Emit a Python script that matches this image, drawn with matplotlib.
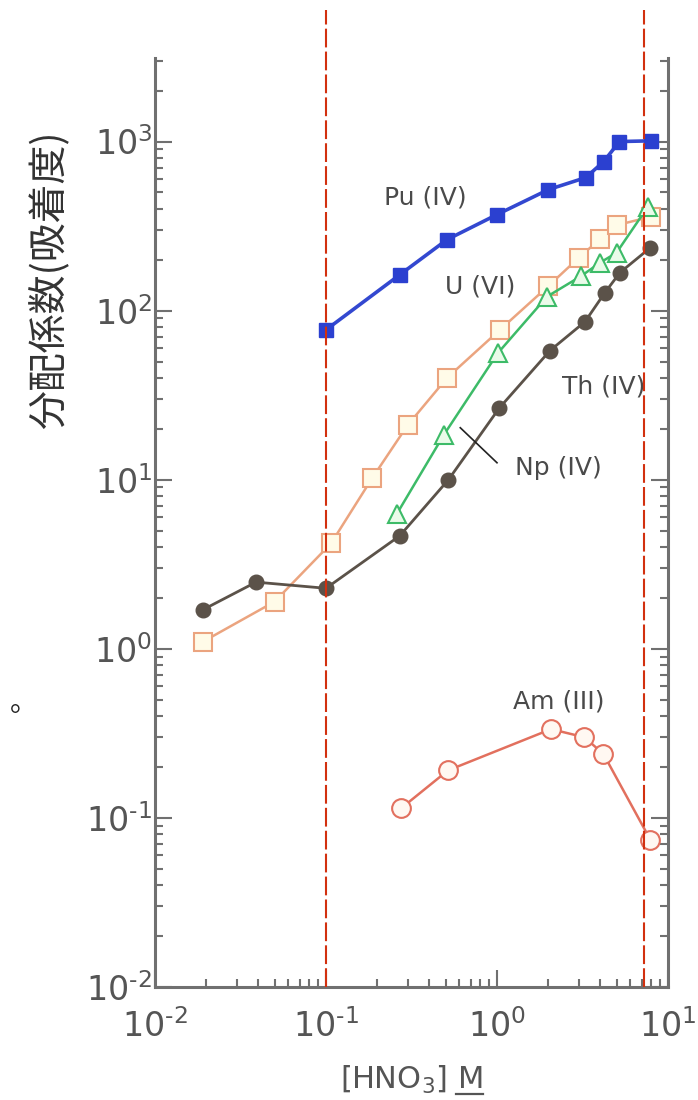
import matplotlib

matplotlib.use("Agg")
import matplotlib.pyplot as plt  # noqa: E402
from matplotlib.lines import Line2D  # noqa: E402
from matplotlib.ticker import FixedFormatter, FixedLocator, LogLocator, NullFormatter  # noqa: E402

plt.rcParams["font.family"] = ["DejaVu Sans"]
plt.rcParams["mathtext.default"] = "regular"

# values (HNO3 molarity vs distribution coefficient)
pu_x = [0.1, 0.27, 0.51, 1.0, 2.0, 3.3, 4.2, 5.2, 8.0]
pu_y = [77, 163, 263, 370, 520, 612, 760, 1000, 1010]

u_x = [0.019, 0.05, 0.107, 0.186, 0.3, 0.51, 1.04, 2.0, 3.0, 4.0, 5.0, 8.0]
u_y = [1.1, 1.9, 4.2, 10.2, 21, 40, 77, 140, 205, 265, 320, 360]

np_x = [0.26, 0.49, 1.01, 1.96, 3.1, 4.0, 5.0, 7.6]
np_y = [6.3, 18.5, 56, 121, 160, 192, 220, 410]

th_x = [0.019, 0.039, 0.1, 0.27, 0.52, 1.03, 2.04, 3.27, 4.28, 5.24, 7.9]
th_y = [1.7, 2.48, 2.28, 4.66, 10.0, 26.5, 58, 86, 128, 168, 236]

am_x = [0.275, 0.517, 2.07, 3.24, 4.19, 7.9]
am_y = [0.114, 0.191, 0.335, 0.30, 0.239, 0.074]

limit_x = [0.1, 7.2]  # red dashed guide lines

x_ticks = [0.01, 0.1, 1, 10]
x_labels = ["10$^{\u20102}$", "10$^{\u20101}$", "10$^{0}$", "10$^{1}$"]
y_ticks = [0.01, 0.1, 1, 10, 100, 1000]
y_labels = ["10$^{\u20102}$", "10$^{\u20101}$", "10$^{0}$", "10$^{1}$",
            "10$^{2}$", "10$^{3}$"]

W, H = 698, 1100
fig = plt.figure(figsize=(W / 100, H / 100), dpi=100)
ax = fig.add_axes([155 / W, 1 - 987 / H, 513 / W, 929 / H])

GRAY = "#707070"
ax.plot(u_x, u_y, color="#eba47f", lw=1.8, marker="s", ms=12.5,
        mfc="#fffbe8", mec="#eba47f", mew=1.5, zorder=3)
ax.plot(np_x, np_y, color="#3dbb68", lw=1.8, marker="^", ms=13,
        mfc="#eafbe9", mec="#3dbb68", mew=1.5, zorder=4)
ax.plot(th_x, th_y, color="#5b5249", lw=2.0, marker="o", ms=10.5,
        mfc="#5b5249", mec="#5b5249", zorder=5)
ax.plot(pu_x, pu_y, color="#3348d0", lw=2.6, marker="s", ms=10.5,
        mfc="#2b40d0", mec="#2b40d0", zorder=6)
ax.plot(am_x, am_y, color="#e2705e", lw=1.8, marker="o", ms=13.5,
        mfc="#fff8f2", mec="#e2705e", mew=1.5, zorder=5)

for xv in limit_x:
    ax.axvline(xv, ymin=0, ymax=1.052, color="#d2300f", lw=1.5,
               ls=(0, (9, 2)), clip_on=False, zorder=10)

ax.set_xscale("log")
ax.set_yscale("log")
ax.set_xlim(0.01, 10)
ax.set_ylim(0.01, 3120)

ax.spines["top"].set_visible(False)
for side in ("left", "right", "bottom"):
    ax.spines[side].set_color(GRAY)
    ax.spines[side].set_linewidth(2.2)

ax.xaxis.set_major_locator(FixedLocator(x_ticks))
ax.xaxis.set_major_formatter(FixedFormatter(x_labels))
ax.xaxis.set_minor_locator(LogLocator(base=10, subs=range(2, 10), numticks=100))
ax.xaxis.set_minor_formatter(NullFormatter())
ax.yaxis.set_major_locator(FixedLocator(y_ticks))
ax.yaxis.set_major_formatter(FixedFormatter(y_labels))
ax.yaxis.set_minor_locator(LogLocator(base=10, subs=range(2, 10), numticks=100))
ax.yaxis.set_minor_formatter(NullFormatter())
ax.tick_params(which="both", direction="in", colors=GRAY, width=1.5,
               top=False, right=True, labelcolor="#555555", labelsize=24)
ax.tick_params(which="major", length=12)
ax.tick_params(which="minor", length=6)
ax.tick_params(axis="y", pad=2)
ax.tick_params(axis="x", pad=16)

ax.set_xlabel("[HNO$_3$] M", fontsize=22, color="#555555", labelpad=14)

lab = dict(fontsize=18, color="#4a4a4a", ha="center", va="center", zorder=8)
ax.text(0.38, 470, "Pu (IV)", **lab)
ax.text(0.80, 139, "U (VI)", **lab)
ax.text(4.2, 35.5, "Th (IV)", **lab)
ax.text(2.3, 11.8, "Np (IV)", **lab)
ax.text(2.3, 0.49, "Am (III)", **lab)
ax.plot([1.0, 0.61], [12.6, 20.3], color="#222222", lw=1.2, zorder=8)

fig.text(50 / W, 1 - 280 / H, "分配係数(吸着度)", rotation=90, ha="center",
         va="center", fontsize=28, color="#333333",
         family=["Noto Sans CJK JP", "DejaVu Sans"])
fig.text(24 / W, 1 - 703 / H, "。", ha="center", va="center", fontsize=20,
         color="#222222", family=["Noto Sans CJK JP", "DejaVu Sans"])

# underline the "M" of the x label
fig.canvas.draw()
r = fig.canvas.get_renderer()
bb = ax.xaxis.label.get_window_extent(r)
tmp = fig.text(0, 0, "M", fontsize=22)
mw = tmp.get_window_extent(r).width
tmp.remove()
fig.add_artist(Line2D([(bb.x1 - mw) / W, bb.x1 / W],
                      [(bb.y0 + 2) / H, (bb.y0 + 2) / H],
                      color="#555555", lw=1.6))

fig.savefig("out.png", dpi=100)
